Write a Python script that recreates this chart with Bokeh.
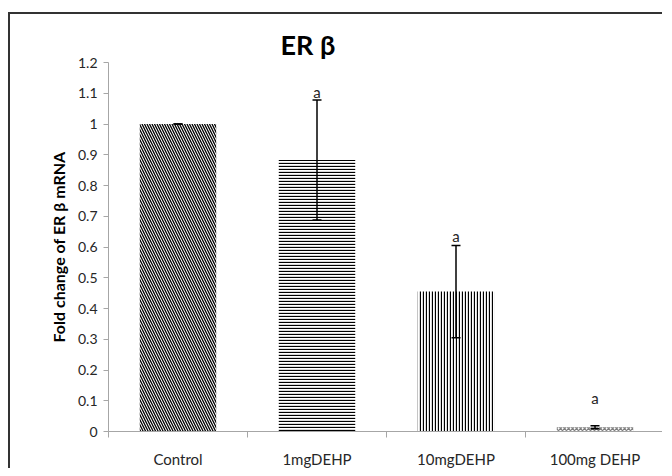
from bokeh.plotting import figure
from bokeh.models import (Range1d, FixedTicker, NumeralTickFormatter, Whisker, TeeHead,
                          ColumnDataSource)
from bokeh.core.properties import value
from bokeh.embed import file_html
from bokeh.resources import INLINE

# ---- data ----
categories = ["Control", "1mgDEHP", "10mgDEHP", "100mg DEHP"]
fold_change = [1.0, 0.883, 0.455, 0.014]
error = [0.0, 0.195, 0.15, 0.005]
sig_letters = ["", "a", "a", "a"]
sig_y = [1.0, 1.075, 0.605, 0.08]
y_ticks = [0, 0.1, 0.2, 0.3, 0.4, 0.5, 0.6, 0.7, 0.8, 0.9, 1.0, 1.1, 1.2]

hatches = ["\\", "-", "|", "x"]
hatch_scales = [5, 3, 3, 4]
hatch_colors = ["black", "black", "black", "#808080"]

xs = [i + 0.5 for i in range(len(categories))]
upper = [v + e for v, e in zip(fold_change, error)]
lower = [v - e for v, e in zip(fold_change, error)]

FONT = "Lato"

p = figure(width=654, height=456, output_backend="svg", toolbar_location=None,
           x_range=Range1d(0, len(categories)), y_range=Range1d(0, 1.2),
           min_border_left=98, min_border_right=0, min_border_top=48, min_border_bottom=33)
p.styles = {"position": "absolute", "left": "8px", "top": "12px",
            "border-left": "2px solid #333333", "border-top": "2px solid #333333"}
p.outline_line_color = None
p.grid.visible = False
p.background_fill_color = "white"
p.border_fill_color = "white"

# title
p.title.text = "ER \u03b2"
p.title.text_font = FONT
p.title.text_font_size = "27px"
p.title.text_font_style = "bold"
p.title.text_color = "black"
p.title.align = "left"
p.title.offset = 172
p.title.standoff = 4

# bars
for i in range(len(categories)):
    p.vbar(x=[xs[i]], top=[fold_change[i]], width=0.55, fill_color="white",
           line_color=None, hatch_pattern=hatches[i], hatch_color=hatch_colors[i],
           hatch_scale=hatch_scales[i], hatch_weight=1.3)

# error bars
src = ColumnDataSource(dict(x=xs, upper=upper, lower=lower))
wh = Whisker(source=src, base="x", upper="upper", lower="lower",
             line_color="black", line_width=1.5, level="overlay",
             upper_head=TeeHead(size=9, line_color="black", line_width=1.5),
             lower_head=TeeHead(size=9, line_color="black", line_width=1.5))
p.add_layout(wh)

# significance letters
p.text(x=xs, y=sig_y, text=sig_letters, text_align="center", text_baseline="bottom",
       text_font=value(FONT), text_font_size="15px", text_color="#262626")

# x axis
xa = p.xaxis[0]
xa.ticker = FixedTicker(ticks=xs, minor_ticks=list(range(len(categories) + 1)))
xa.major_label_overrides = {x: c for x, c in zip(xs, categories)}
xa.major_tick_line_color = None
xa.major_tick_out = 0
xa.major_tick_in = 0
xa.minor_tick_out = 6
xa.minor_tick_in = 0
xa.minor_tick_line_color = "#a6a6a6"
xa.axis_line_color = "#a6a6a6"
xa.major_label_text_font = FONT
xa.major_label_text_font_size = "15px"
xa.major_label_text_color = "#262626"
xa.major_label_standoff = 12

# y axis
ya = p.yaxis[0]
ya.ticker = FixedTicker(ticks=y_ticks, minor_ticks=[])
ya.formatter = NumeralTickFormatter(format="0.[0]")
ya.major_tick_out = 5
ya.major_tick_in = 0
ya.major_tick_line_color = "#a6a6a6"
ya.axis_line_color = "#a6a6a6"
ya.major_label_text_font = FONT
ya.major_label_text_font_size = "14px"
ya.major_label_text_color = "#262626"
ya.major_label_standoff = 6
ya.axis_label = "Fold change of ER \u03b2 mRNA"
ya.axis_label_text_font = FONT
ya.axis_label_text_font_size = "16px"
ya.axis_label_text_font_style = "bold"
ya.axis_label_text_color = "black"
ya.axis_label_standoff = 7

open("out.html", "w").write(file_html(p, INLINE))
